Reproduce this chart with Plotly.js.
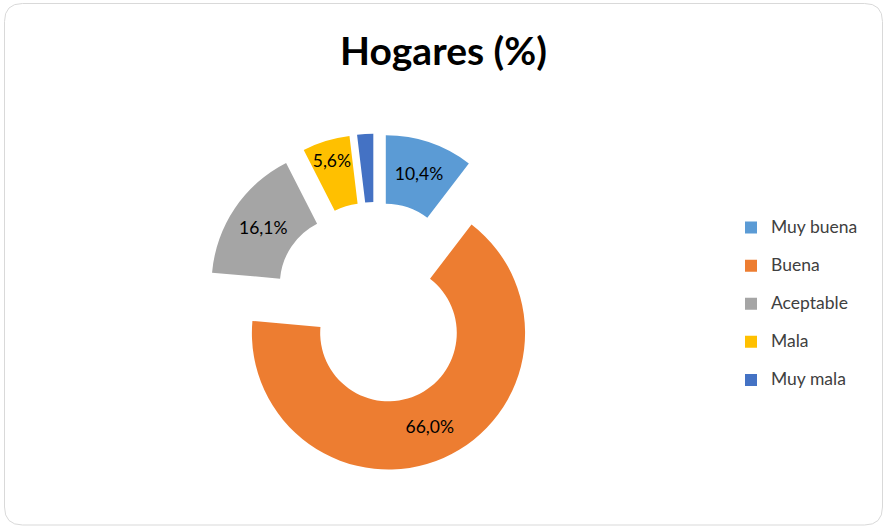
<!DOCTYPE html>
<html>
<head>
<meta charset="utf-8">
<script src="https://cdn.plot.ly/plotly-3.0.1.min.js"></script>
<style>
  html, body { margin: 0; padding: 0; background: #ffffff; }
  #chart { width: 883px; height: 526px; }
</style>
</head>
<body>
<div id="chart"></div>
<script>
// ---- data ----
const chartTitle = 'Hogares (%)';
const categories = ['Muy buena', 'Buena', 'Aceptable', 'Mala', 'Muy mala'];
const values = [10.4, 66.0, 16.1, 5.6, 1.9];
const sliceColors = ['#5B9BD5', '#ED7D31', '#A5A5A5', '#FFC000', '#4472C4'];
const showValueLabel = [true, true, true, true, false];

// ---- figure ----
const W = 883, H = 526;

const trace = {
  type: 'pie',
  labels: categories.map(c => '<span style="font-size:17.5px;baseline-shift:5px">' + c + '</span>'),
  values: values,
  sort: false,
  direction: 'clockwise',
  rotation: 0,
  hole: 0.5,
  pull: values.map(() => 0.24),
  marker: { colors: sliceColors, line: { width: 0 } },
  texttemplate: showValueLabel.map(s => s ? '%{percent:.1%}' : ''),
  textposition: 'inside',
  insidetextorientation: 'horizontal',
  textfont: { family: 'Lato, "Open Sans", sans-serif', size: 17.5, color: '#000000' },
  hoverinfo: 'label+percent',
  domain: { x: [0.20, 0.65], y: [0.102, 0.746] }
};

// rounded border in paper coordinates
function roundedRect(l, t, r, b, rad) {
  const X = v => (v / W).toFixed(5);
  const Y = v => (1 - v / H).toFixed(5);
  return 'M' + X(l + rad) + ',' + Y(t) +
    ' L' + X(r - rad) + ',' + Y(t) +
    ' Q' + X(r) + ',' + Y(t) + ' ' + X(r) + ',' + Y(t + rad) +
    ' L' + X(r) + ',' + Y(b - rad) +
    ' Q' + X(r) + ',' + Y(b) + ' ' + X(r - rad) + ',' + Y(b) +
    ' L' + X(l + rad) + ',' + Y(b) +
    ' Q' + X(l) + ',' + Y(b) + ' ' + X(l) + ',' + Y(b - rad) +
    ' L' + X(l) + ',' + Y(t + rad) +
    ' Q' + X(l) + ',' + Y(t) + ' ' + X(l + rad) + ',' + Y(t) + ' Z';
}

const layout = {
  width: W,
  height: H,
  margin: { l: 0, r: 0, t: 0, b: 0 },
  paper_bgcolor: '#ffffff',
  separators: ',.',
  font: { family: 'Lato, "Open Sans", sans-serif', color: '#404040' },
  title: {
    text: chartTitle,
    font: { family: 'Lato, "Open Sans", sans-serif', size: 39, color: '#000000', weight: 'bold' },
    x: 0.5023, xanchor: 'center',
    y: 1 - 51 / H, yanchor: 'middle',
    xref: 'paper', yref: 'container'
  },
  uniformtext: { mode: 'show', minsize: 17.5 },
  showlegend: true,
  legend: {
    x: 731 / W, xanchor: 'left',
    y: 1 - 304 / H, yanchor: 'middle',
    font: { family: 'Lato, "Open Sans", sans-serif', size: 27, color: '#404040' },
    bgcolor: 'rgba(0,0,0,0)',
    traceorder: 'normal'
  },
  shapes: [{
    type: 'path', xref: 'paper', yref: 'paper',
    path: roundedRect(4.5, 3.5, 882.5, 525, 18),
    line: { color: '#d9d9d9', width: 1 },
    fillcolor: 'rgba(0,0,0,0)',
    layer: 'below'
  }]
};

Plotly.newPlot('chart', [trace], layout, { displayModeBar: false, staticPlot: true });
</script>
</body>
</html>
